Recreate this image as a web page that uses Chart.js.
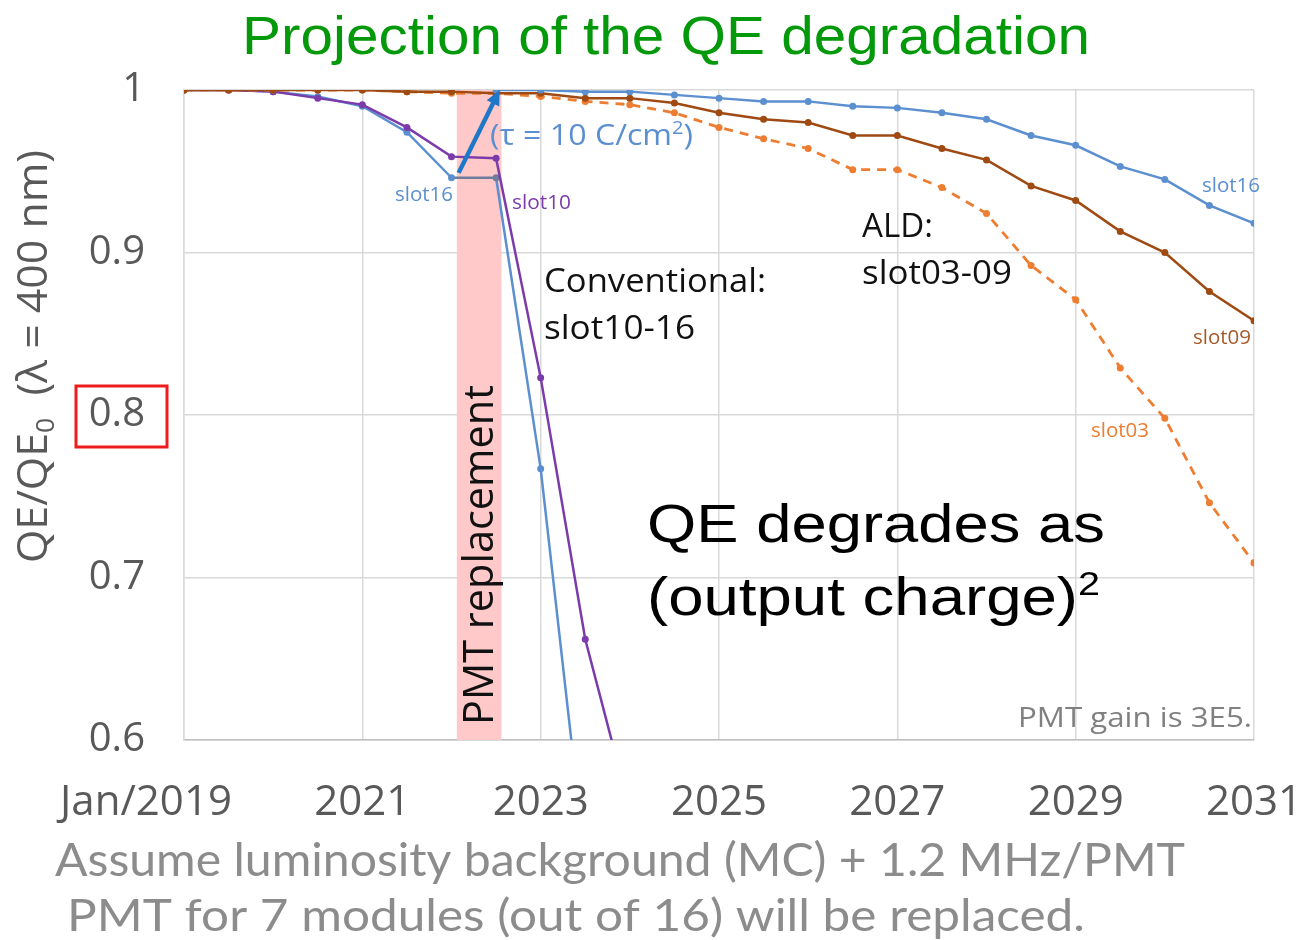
<!DOCTYPE html>
<html>
<head>
<meta charset="utf-8">
<script src="https://cdn.jsdelivr.net/npm/chart.js@4.4.1/dist/chart.umd.min.js"></script>
<style>
  html, body { margin: 0; padding: 0; background: #fff; }
  #wrap { width: 1306px; height: 940px; }
</style>
</head>
<body>
<div id="wrap"><canvas id="qe" width="1306" height="940"></canvas></div>
<script>
// half-year steps
const years = [2019, 2019.5, 2020, 2020.5, 2021, 2021.5, 2022, 2022.5, 2023, 2023.5, 2024, 2024.5, 2025,
  2025.5, 2026, 2026.5, 2027, 2027.5, 2028, 2028.5, 2029, 2029.5, 2030, 2030.5, 2031];

// conventional PMTs (slot10-16), run into the floor after 2023
const slot16Conv = [1.000, 1.000, 0.999, 0.996, 0.990, 0.974, 0.946, 0.946, 0.767, 0.524];
const slot10Conv = [1.000, 1.000, 0.999, 0.995, 0.991, 0.977, 0.959, 0.958, 0.823, 0.662, 0.557];

// ALD PMTs
const slot16Ald = [null, null, null, null, null, null, null, 1.000, 1.000, 0.999, 0.999, 0.997, 0.995,
  0.993, 0.993, 0.990, 0.989, 0.986, 0.982, 0.972, 0.966, 0.953, 0.945, 0.929, 0.918];
const slot09 = [1.000, 1.000, 1.000, 1.000, 1.000, 0.999, 0.999, 0.998, 0.998, 0.995, 0.995, 0.992, 0.986,
  0.982, 0.980, 0.972, 0.972, 0.964, 0.957, 0.941, 0.932, 0.913, 0.900, 0.876, 0.858];
const slot03 = [1.000, 1.000, 1.000, 1.000, 1.000, 0.999, 0.998, 0.998, 0.996, 0.993, 0.991, 0.986, 0.977,
  0.970, 0.964, 0.951, 0.951, 0.940, 0.924, 0.892, 0.871, 0.829, 0.798, 0.746, 0.709];

const xTicks = [2019, 2021, 2023, 2025, 2027, 2029, 2031];
const xTickLabels = ['Jan/2019', '2021', '2023', '2025', '2027', '2029', '2031'];
const yTicks = [0.6, 0.7, 0.8, 0.9, 1.0];

const replaceBand = [2022.06, 2022.56];
const arrowFrom = [2022.08, 0.949];
const arrowTo = [2022.54, 1.0];

const BLUE = '#5b8fd0', PURPLE = '#7b3baa', BROWN = '#9e4a12', ORANGE = '#ed7d31', GREY_SEG = '#6f7c9c';
const CAL = '"Open Sans", sans-serif';
const ARIAL = '"Liberation Sans", Arial, sans-serif';
const LATO = 'Lato, "Open Sans", sans-serif';

const pts = (arr) => arr.map((v, i) => ({ x: years[i], y: v })).filter((p) => p.y !== null);

function line(label, arr, color, extra) {
  return Object.assign({
    label,
    data: pts(arr),
    borderColor: color,
    backgroundColor: color,
    pointBackgroundColor: color,
    pointBorderWidth: 0,
    pointRadius: 3.5,
    borderWidth: 2.5,
    tension: 0,
    fill: false,
  }, extra || {});
}

// squeeze/stretch text to the width it has in the picture
function fitText(ctx, text, x, y, w, size, family, color) {
  ctx.save();
  ctx.font = size + 'px ' + family;
  ctx.fillStyle = color;
  ctx.textAlign = 'left';
  ctx.textBaseline = 'alphabetic';
  const m = ctx.measureText(text).width;
  ctx.translate(x, y);
  ctx.scale(w / m, 1);
  ctx.fillText(text, 0, 0);
  ctx.restore();
}

// parts: [text, size, dy]
function richText(ctx, parts, w, family, color) {
  ctx.save();
  ctx.fillStyle = color;
  ctx.textAlign = 'left';
  ctx.textBaseline = 'alphabetic';
  let total = 0;
  parts.forEach((p) => { ctx.font = p[1] + 'px ' + family; total += ctx.measureText(p[0]).width; });
  ctx.scale(w / total, 1);
  let cx = 0;
  parts.forEach((p) => {
    ctx.font = p[1] + 'px ' + family;
    ctx.fillText(p[0], cx, p[2] || 0);
    cx += ctx.measureText(p[0]).width;
  });
  ctx.restore();
}

const decor = {
  id: 'decor',
  beforeDatasetsDraw(chart) {
    const { ctx, chartArea, scales: { x, y } } = chart;
    const x0 = x.getPixelForValue(replaceBand[0]);
    const x1 = x.getPixelForValue(replaceBand[1]);
    ctx.save();
    ctx.fillStyle = '#ffc9c9';
    ctx.fillRect(x0, chartArea.top, x1 - x0, chartArea.bottom - chartArea.top);
    ctx.translate(493, 725);
    ctx.rotate(-Math.PI / 2);
    fitText(ctx, 'PMT replacement', 0, 0, 340, 42, CAL, '#111');
    ctx.restore();
  },
  afterDatasetsDraw(chart) {
    const { ctx, scales: { x, y } } = chart;
    // arrow from old slot16 to the new PMT
    const ax = x.getPixelForValue(arrowFrom[0]), ay = y.getPixelForValue(arrowFrom[1]);
    const bx = x.getPixelForValue(arrowTo[0]), by = y.getPixelForValue(arrowTo[1]);
    const ang = Math.atan2(by - ay, bx - ax);
    ctx.save();
    ctx.strokeStyle = '#1f77c8';
    ctx.fillStyle = '#1f77c8';
    ctx.lineWidth = 4.5;
    ctx.beginPath();
    ctx.moveTo(ax, ay);
    ctx.lineTo(bx - 10 * Math.cos(ang), by - 10 * Math.sin(ang));
    ctx.stroke();
    ctx.beginPath();
    ctx.moveTo(bx, by);
    ctx.lineTo(bx - 15 * Math.cos(ang) + 7 * Math.sin(ang), by - 15 * Math.sin(ang) - 7 * Math.cos(ang));
    ctx.lineTo(bx - 15 * Math.cos(ang) - 7 * Math.sin(ang), by - 15 * Math.sin(ang) + 7 * Math.cos(ang));
    ctx.closePath();
    ctx.fill();
    ctx.restore();
  },
  afterDraw(chart) {
    const { ctx, scales: { x, y } } = chart;

    // x tick labels
    ctx.save();
    ctx.font = '42px ' + CAL;
    ctx.fillStyle = '#595959';
    ctx.textAlign = 'center';
    ctx.textBaseline = 'alphabetic';
    xTicks.forEach((v, i) => {
      const px = x.getPixelForValue(v) + (i === 0 ? -38 : 0);
      ctx.fillText(xTickLabels[i], px, 815);
    });
    ctx.restore();

    // red box round 0.8
    const y8 = y.getPixelForValue(0.8);
    ctx.save();
    ctx.strokeStyle = '#ee1c1c';
    ctx.lineWidth = 3;
    ctx.strokeRect(76, y8 - 29, 91, 61);
    ctx.restore();

    // y axis title
    ctx.save();
    ctx.translate(47, 563);
    ctx.rotate(-Math.PI / 2);
    richText(ctx, [['QE/QE', 42], ['0', 26, 7], ['  (λ = 400 nm)', 42]], 413, CAL, '#595959');
    ctx.restore();

    fitText(ctx, 'Projection of the QE degradation', 242, 54, 848, 53, ARIAL, '#04990a');

    ctx.save();
    ctx.translate(490, 145);
    richText(ctx, [['(τ = 10 C/cm', 29], ['2', 18, -11], [')', 29]], 203, CAL, BLUE);
    ctx.restore();

    fitText(ctx, 'slot16', 395, 201, 58, 20, CAL, BLUE);
    fitText(ctx, 'slot10', 512, 209, 59, 20, CAL, PURPLE);
    fitText(ctx, 'Conventional:', 544, 292, 222, 33, CAL, '#111');
    fitText(ctx, 'slot10-16', 544, 339, 151, 33, CAL, '#111');
    fitText(ctx, 'ALD:', 862, 237, 71, 33, CAL, '#111');
    fitText(ctx, 'slot03-09', 862, 284, 150, 33, CAL, '#111');
    fitText(ctx, 'slot16', 1202, 192, 58, 20, CAL, BLUE);
    fitText(ctx, 'slot09', 1193, 344, 58, 20, CAL, '#a65a2a');
    fitText(ctx, 'slot03', 1091, 437, 58, 20, CAL, ORANGE);

    fitText(ctx, 'QE degrades as', 647, 542, 458, 53, ARIAL, '#000');
    ctx.save();
    ctx.translate(647, 615);
    richText(ctx, [['(output charge)', 53], ['2', 33, -20]], 453, ARIAL, '#000');
    ctx.restore();

    fitText(ctx, 'PMT gain is 3E5.', 1018, 727, 234, 28, CAL, '#808080');

    fitText(ctx, 'Assume luminosity background (MC) + 1.2 MHz/PMT', 55, 876, 1130, 46, LATO, '#8c8c8c');
    fitText(ctx, 'PMT for 7 modules (out of 16) will be replaced.', 67, 931, 1018, 44, LATO, '#8c8c8c');
  },
};

new Chart(document.getElementById('qe'), {
  type: 'line',
  data: {
    datasets: [
      line('slot16 ALD', slot16Ald, BLUE),
      line('slot09', slot09, BROWN),
      line('slot03', slot03, ORANGE, { borderDash: [9, 7], borderWidth: 2.8 }),
      line('slot10', slot10Conv, PURPLE),
      line('slot16', slot16Conv, BLUE, {
        pointBackgroundColor: (c) => (c.raw && c.raw.x === 2022.5 ? GREY_SEG : BLUE),
        segment: { borderColor: (c) => (c.p0.parsed.x === 2022 ? GREY_SEG : undefined) },
      }),
    ],
  },
  options: {
    responsive: false,
    animation: false,
    events: [],
    layout: { padding: { left: 0, top: 90, right: 52, bottom: 100 } },
    plugins: { legend: { display: false }, tooltip: { enabled: false } },
    scales: {
      x: {
        type: 'linear',
        min: 2019,
        max: 2031,
        afterBuildTicks: (s) => { s.ticks = xTicks.map((v) => ({ value: v })); },
        afterFit: (s) => { s.height = 100; },
        ticks: { display: false },
        grid: { color: '#d9d9d9', lineWidth: 1.5, drawTicks: false },
        border: { color: '#bfbfbf', width: 1.5 },
      },
      y: {
        min: 0.6,
        max: 1.0,
        afterBuildTicks: (s) => { s.ticks = yTicks.map((v) => ({ value: v })); },
        afterFit: (s) => { s.width = 184; },
        ticks: {
          padding: 39,
          color: '#595959',
          font: { family: 'Open Sans', size: 40 },
          callback: (v) => (v === 1 ? '1' : v.toFixed(1)),
        },
        grid: { color: '#d9d9d9', lineWidth: 1.5, drawTicks: false },
        border: { color: '#d9d9d9', width: 1.5 },
      },
    },
  },
  plugins: [decor],
});
</script>
</body>
</html>
